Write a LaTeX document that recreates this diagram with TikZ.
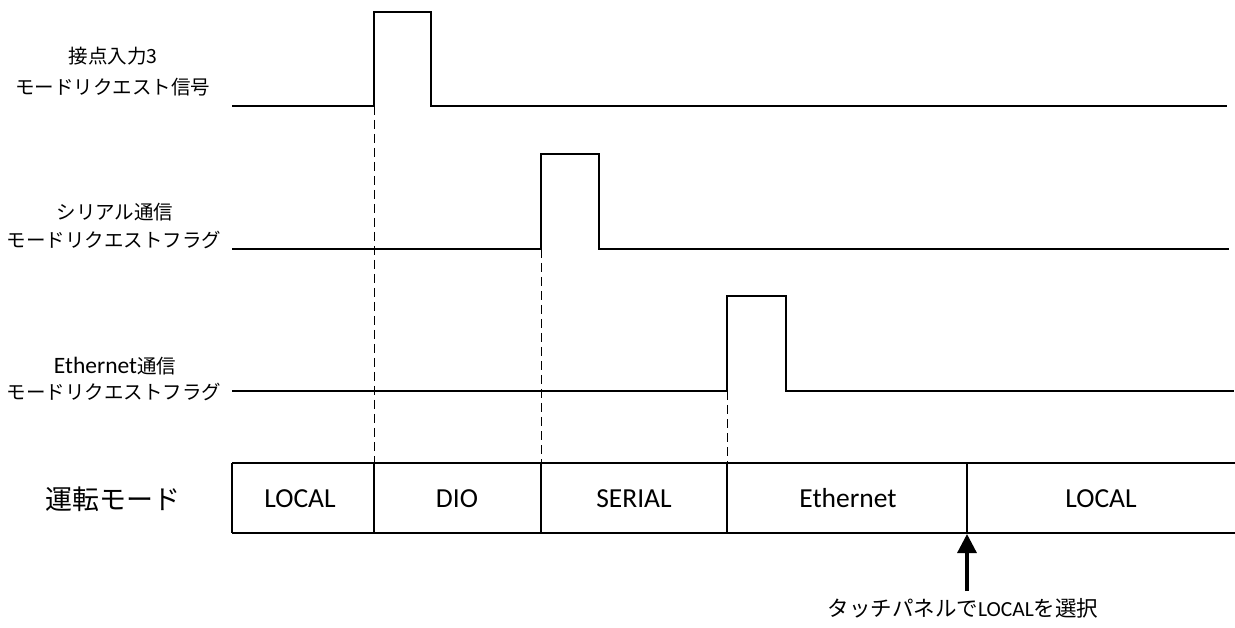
\documentclass[tikz,border=0pt]{standalone}
\usepackage{fontspec}
\setmainfont{Carlito}
\newfontfamily\jp{Noto Sans CJK JP}
\usetikzlibrary{arrows.meta}
\begin{document}
\begin{tikzpicture}[x=1pt,y=-1pt,
  sig/.style={line width=1.2pt},
  guide/.style={line width=0.9pt,dash pattern=on 9pt off 5pt},
  lbl/.style={font=\fontsize{19.5}{24}\jp,inner sep=0pt},
  modetxt/.style={font=\fontsize{27.5}{30}\selectfont,inner sep=0pt},
  pick/.style={line width=3.2pt,-{Triangle[length=19pt,width=19pt]}}]
\useasboundingbox (0,0) rectangle (1235,628);
% signal 1
\coordinate (s1a) at (232,106);
\coordinate (p1r) at (374,106);
\coordinate (p1f) at (431,106);
\coordinate (s1b) at (1227,106);
\draw[sig] (s1a) -- (p1r) -- ++(0,-94) -| (p1f) -- (s1b);
% signal 2
\coordinate (s2a) at (232,249);
\coordinate (p2r) at (541,249);
\coordinate (p2f) at (599,249);
\coordinate (s2b) at (1229,249);
\draw[sig] (s2a) -- (p2r) -- ++(0,-95) -| (p2f) -- (s2b);
% signal 3
\coordinate (s3a) at (232,391);
\coordinate (p3r) at (727,391);
\coordinate (p3f) at (786,391);
\coordinate (s3b) at (1234,391);
\draw[sig] (s3a) -- (p3r) -- ++(0,-95) -| (p3f) -- (s3b);
% labels
\node[lbl] (l1a) at (113,56) {接点入力3};
\node[lbl] (l1b) at (113,87) {モードリクエスト信号};
\node[lbl] (l2a) at (115,212) {シリアル通信};
\node[lbl] (l2b) at (114,240) {モードリクエストフラグ};
\node[lbl] (l3a) at (115,366) {{\fontspec{Carlito}\fontsize{23.5}{24}\selectfont Ethernet}通信};
\node[lbl] (l3b) at (114,392) {モードリクエストフラグ};
% mode box
\draw[sig] (232,463) -- (1235,463);
\draw[sig] (232,533) -- (1235,533);
\coordinate (d0) at (232,463);
\coordinate (d1) at (374,463);
\coordinate (d2) at (541,463);
\coordinate (d3) at (727,463);
\coordinate (d4) at (967,463);
\foreach \c in {d0,d1,d2,d3,d4} \draw[sig] (\c) -- ++(0,70);
\node[font=\fontsize{27}{30}\jp,inner sep=0pt] (mode) at (113,499) {運転モード};
\node[modetxt] (m1) at (300,498.5) {LOCAL};
\node[modetxt] (m2) at (457,498.5) {DIO};
\node[modetxt] (m3) at (634,498.5) {SERIAL};
\node[modetxt] (m4) at (848,498.5) {Ethernet};
\node[modetxt] (m5) at (1101,498.5) {LOCAL};
% dashed guides
\draw[guide] (p1r) -- (d1);
\draw[guide] (p2r) -- (d2);
\draw[guide] (p3r) -- (d3);
% touch panel arrow
\coordinate (tp) at (967,534);
\node[font=\fontsize{21.5}{24}\selectfont,inner sep=0pt] (note) at (963,608) {{\jp タッチパネルで}LOCAL{\jp を選択}};
\draw[pick] (967,591) -- (tp);
\end{tikzpicture}
\end{document}
